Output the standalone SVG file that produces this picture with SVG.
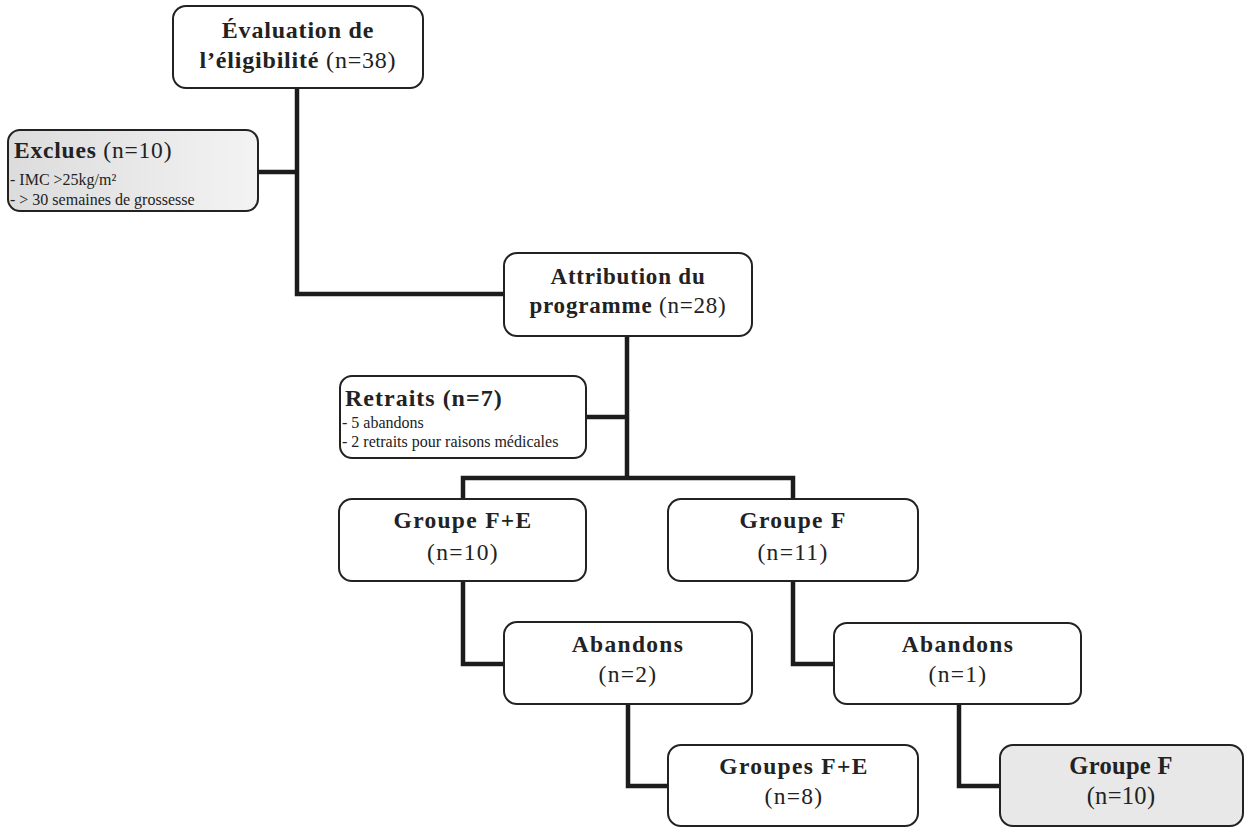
<svg xmlns="http://www.w3.org/2000/svg" width="1253" height="828" viewBox="0 0 1253 828">
<defs>
<linearGradient id="gEx" x1="0" y1="0" x2="1" y2="0">
<stop offset="0" stop-color="#dcdcdc"/>
<stop offset="1" stop-color="#f3f3f3"/>
</linearGradient>
<style>
.box{fill:#fff;stroke:#222;stroke-width:2}
.t{font-family:"Liberation Serif","Times New Roman",serif;fill:#222;text-anchor:middle;letter-spacing:0.8px}
.g{font-size:23.5px;letter-spacing:1.3px}
.b{font-weight:bold}
.r{font-weight:normal}
.s{font-family:"Liberation Serif","Times New Roman",serif;fill:#222;font-size:16px}
.c{fill:none;stroke:#1c1c1c;stroke-width:4.5;stroke-linejoin:miter}
</style>
</defs>
<rect width="1253" height="828" fill="#fff"/>
<g id="connectors">
<path class="c" d="M297 88 V294 H505"/>
<path class="c" d="M258 172 H297"/>
<path class="c" d="M627 336 V478"/>
<path class="c" d="M586 417 H627"/>
<path class="c" d="M463 499 V478 H793 V499"/>
<path class="c" d="M463 581 V664 H504"/>
<path class="c" d="M793 581 V664 H834"/>
<path class="c" d="M628 704 V786 H668"/>
<path class="c" d="M959 704 V786 H1000"/>
</g>
<g id="eval">
<rect class="box" x="173" y="6" width="250" height="82" rx="13"/>
<text class="t b" x="298" y="38" font-size="24">Évaluation de</text>
<text class="t" x="298" y="68" font-size="24"><tspan class="b">l’éligibilité</tspan><tspan class="r"> (n=38)</tspan></text>
</g>
<g id="exclues">
<rect class="box" x="8" y="130" width="250" height="81" rx="12" style="fill:url(#gEx)"/>
<text class="t" x="14" y="158" font-size="23.5" style="text-anchor:start"><tspan class="b">Exclues</tspan><tspan class="r"> (n=10)</tspan></text>
<text class="s" x="10" y="185">- IMC &gt;25kg/m²</text>
<text class="s" x="10" y="205">- &gt; 30 semaines de grossesse</text>
</g>
<g id="attribution">
<rect class="box" x="504" y="253" width="248" height="83" rx="13"/>
<text class="t b" x="628" y="284" font-size="23">Attribution du</text>
<text class="t" x="628" y="313" font-size="23"><tspan class="b">programme</tspan><tspan class="r"> (n=28)</tspan></text>
</g>
<g id="retraits">
<rect class="box" x="340" y="376" width="246" height="82" rx="12"/>
<text class="t b" x="345" y="406" font-size="24" style="text-anchor:start;letter-spacing:1px">Retraits (n=7)</text>
<text class="s" x="342" y="428">- 5 abandons</text>
<text class="s" x="342" y="447">- 2 retraits pour raisons médicales</text>
</g>
<g id="groupeFE">
<rect class="box" x="339" y="499" width="247" height="82" rx="13"/>
<text class="t g b" x="463" y="528">Groupe F+E</text>
<text class="t g r" x="463" y="560">(n=10)</text>
</g>
<g id="groupeF">
<rect class="box" x="668" y="499" width="250" height="82" rx="13"/>
<text class="t g b" x="793" y="528">Groupe F</text>
<text class="t g r" x="793" y="560">(n=11)</text>
</g>
<g id="abandons1">
<rect class="box" x="504" y="622" width="248" height="82" rx="13"/>
<text class="t g b" x="628" y="652">Abandons</text>
<text class="t g r" x="628" y="682">(n=2)</text>
</g>
<g id="abandons2">
<rect class="box" x="834" y="623" width="247" height="81" rx="13"/>
<text class="t g b" x="958" y="652">Abandons</text>
<text class="t g r" x="958" y="682">(n=1)</text>
</g>
<g id="groupesFE8">
<rect class="box" x="668" y="745" width="250" height="81" rx="13"/>
<text class="t g b" x="794" y="774">Groupes F+E</text>
<text class="t g r" x="794" y="804">(n=8)</text>
</g>
<g id="groupeF10">
<rect class="box" x="1000" y="745" width="243" height="81" rx="13" style="fill:#e8e8e8"/>
<text class="t b" x="1121" y="774" font-size="24.5" style="letter-spacing:0.3px">Groupe F</text>
<text class="t r" x="1121" y="804" font-size="24.5" style="letter-spacing:0.3px">(n=10)</text>
</g>
</svg>
